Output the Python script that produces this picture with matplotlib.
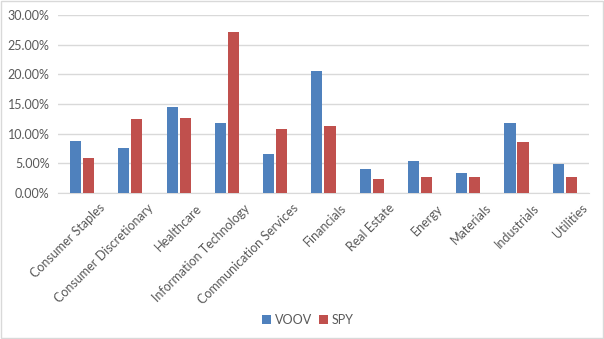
import matplotlib.pyplot as plt
import matplotlib.transforms as mtransforms
import numpy as np
from matplotlib.ticker import PercentFormatter

# Sector weights (%) for the two funds
sectors = ["Consumer Staples", "Consumer Discretionary", "Healthcare",
           "Information Technology", "Communication Services", "Financials",
           "Real Estate", "Energy", "Materials", "Industrials", "Utilities"]
voov = [8.82, 7.64, 14.40, 11.70, 6.60, 20.50, 3.95, 5.30, 3.40, 11.85, 4.95]
spy = [5.95, 12.50, 12.70, 27.20, 10.80, 11.20, 2.40, 2.60, 2.60, 8.65, 2.60]

plt.rcParams['font.family'] = ['Lato', 'DejaVu Sans']
grey = '#595959'

fig = plt.figure(figsize=(6.04, 3.39), dpi=100)
ax = fig.add_axes([0.096, 0.431, 0.879, 0.525])

x = np.arange(len(sectors))
w = 0.23
ax.bar(x - 0.135, voov, w, color='#4f81bd', label='VOOV', zorder=3)
ax.bar(x + 0.135, spy, w, color='#c0504d', label='SPY', zorder=3)

ax.set_xlim(-0.5, len(sectors) - 0.5)
ax.set_ylim(0, 30)
ax.set_yticks(np.arange(0, 31, 5))
ax.yaxis.set_major_formatter(PercentFormatter(decimals=2))
ax.grid(axis='y', color='#d9d9d9', linewidth=1, zorder=0)

for s in ['top', 'right', 'left']:
    ax.spines[s].set_visible(False)
ax.spines['bottom'].set_color('#d9d9d9')
ax.tick_params(axis='both', length=0, colors=grey, labelsize=9)
ax.tick_params(axis='y', pad=6)

ax.set_xticks(x)
ax.set_xticklabels(sectors, rotation=45, ha='right', va='top',
                   rotation_mode='anchor')
# nudge the slanted labels so they end just right of each category
shift = mtransforms.ScaledTranslation(12 / 72, -3 / 72, fig.dpi_scale_trans)
for lbl in ax.get_xticklabels():
    lbl.set_color(grey)
    lbl.set_transform(lbl.get_transform() + shift)

fig.legend(loc='lower center', ncol=2, frameon=False, fontsize=9,
           bbox_to_anchor=(0.51, 0.005), handlelength=0.7, handleheight=0.7,
           columnspacing=0.6, handletextpad=0.3, labelcolor=grey)

# light outer frame
fig.patches.append(plt.Rectangle((0.001, 0.002), 0.997, 0.995,
                                 transform=fig.transFigure, fill=False,
                                 edgecolor='#d9d9d9', linewidth=1))

fig.savefig('out.png', dpi=100)
